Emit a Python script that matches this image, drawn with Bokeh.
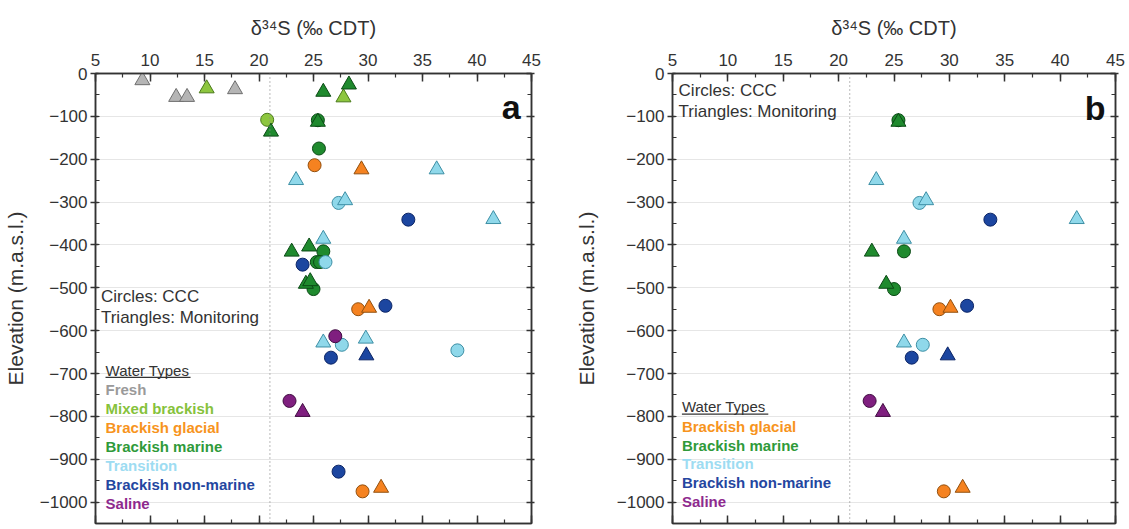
from bokeh.plotting import figure
from bokeh.models import LinearAxis, Range1d, Span, Label
from bokeh.layouts import row
from bokeh.embed import file_html
from bokeh.resources import INLINE

FONT = "Liberation Sans"

# ---------------- data: panel a ----------------
fresh_tri_x = [9.3, 12.4, 13.4, 17.8]
fresh_tri_y = [-16, -55, -55, -37]
mixed_circ_x = [20.75]
mixed_circ_y = [-108]
mixed_tri_x = [15.2, 27.75]
mixed_tri_y = [-35, -56]
glacial_circ_x = [25.1, 29.1, 29.5]
glacial_circ_y = [-214, -550, -975]
glacial_tri_x = [29.4, 30.1, 31.2]
glacial_tri_y = [-224, -547, -967]
marine_circ_x = [25.4, 25.5, 25.9, 25.3, 25.6, 25.0]
marine_circ_y = [-109, -175, -415, -440, -440, -503]
marine_tri_x = [25.9, 28.25, 21.1, 25.4, 23.0, 24.6, 24.3, 24.7]
marine_tri_y = [-43, -26, -136, -113, -416, -404, -491, -485]
trans_circ_x = [27.3, 26.1, 27.6, 38.2]
trans_circ_y = [-302, -440, -633, -646]
trans_tri_x = [23.4, 36.3, 27.9, 41.5, 25.9, 25.9, 29.8]
trans_tri_y = [-249, -224, -296, -340, -386, -628, -619]
nonmar_circ_x = [33.7, 24.0, 31.6, 26.6, 27.3]
nonmar_circ_y = [-341, -446, -542, -663, -929]
nonmar_tri_x = [29.85]
nonmar_tri_y = [-658]
saline_circ_x = [27.0, 22.8]
saline_circ_y = [-613, -764]
saline_tri_x = [24.0]
saline_tri_y = [-790]

# ---------------- data: panel b ----------------
b_glacial_circ_x = [29.1, 29.5]
b_glacial_circ_y = [-550, -975]
b_glacial_tri_x = [30.1, 31.2]
b_glacial_tri_y = [-547, -967]
b_marine_circ_x = [25.4, 25.9, 25.0]
b_marine_circ_y = [-109, -415, -503]
b_marine_tri_x = [25.4, 23.0, 24.3]
b_marine_tri_y = [-113, -416, -491]
b_trans_circ_x = [27.3, 27.6]
b_trans_circ_y = [-302, -633]
b_trans_tri_x = [23.4, 27.9, 41.5, 25.9, 25.9]
b_trans_tri_y = [-249, -296, -340, -386, -628]
b_nonmar_circ_x = [33.7, 31.6, 26.6]
b_nonmar_circ_y = [-341, -542, -663]
b_nonmar_tri_x = [29.85]
b_nonmar_tri_y = [-658]
b_saline_circ_x = [22.8]
b_saline_circ_y = [-764]
b_saline_tri_x = [24.0]
b_saline_tri_y = [-790]

seawater_d34s = 21.0

legend_a = ["Fresh", "Mixed brackish", "Brackish glacial", "Brackish marine",
            "Transition", "Brackish non-marine", "Saline"]
legend_b = ["Brackish glacial", "Brackish marine", "Transition",
            "Brackish non-marine", "Saline"]

# styles
STY = {
    "Fresh": dict(fill="#b5b5b5", line="#6f6f6f", text="#9a9a9a"),
    "Mixed brackish": dict(fill="#8dc63f", line="#4a7a1a", text="#86c23c"),
    "Brackish glacial": dict(fill="#f58220", line="#92500f", text="#f7941d"),
    "Brackish marine": dict(fill="#1f8a2e", line="#0b4a15", text="#2f9a3a"),
    "Transition": dict(fill="#8fd8ea", line="#3d8fa5", text="#9ddcf2"),
    "Brackish non-marine": dict(fill="#1c46a0", line="#0c2566", text="#2446a0"),
    "Saline": dict(fill="#7f1f7f", line="#3f0a40", text="#8e2a8e"),
}

CIRC = 13
TRI = 15


def make_fig(width, border_left, border_right, ylab_standoff):
    p = figure(width=width, height=529, x_range=Range1d(5, 45),
               y_range=Range1d(-1050, 0), x_axis_location="above",
               output_backend="svg", toolbar_location=None,
               min_border_left=border_left, min_border_right=border_right,
               min_border_top=73, min_border_bottom=6)
    p.outline_line_color = "#333333"
    p.outline_line_width = 1.5
    p.xgrid.visible = False
    p.ygrid.grid_line_color = "#e6e6e6"
    p.ygrid.grid_line_width = 1
    p.background_fill_color = "white"
    p.border_fill_color = "white"

    xa = p.xaxis[0]
    xa.axis_label = "\u03b4\u00b3\u2074S (\u2030 CDT)"
    xa.axis_label_text_font = FONT
    xa.axis_label_text_font_size = "20px"
    xa.axis_label_text_font_style = "normal"
    xa.axis_label_text_color = "#333333"
    xa.axis_label_standoff = 12
    xa.major_label_text_font = FONT
    xa.major_label_text_font_size = "17px"
    xa.major_label_text_color = "#333333"
    xa.major_label_standoff = 8
    xa.major_tick_in = 8
    xa.major_tick_out = 0
    xa.minor_tick_in = 4
    xa.minor_tick_out = 0
    xa.ticker.desired_num_ticks = 9
    xa.ticker.num_minor_ticks = 2

    ya = p.yaxis[0]
    ya.axis_label = "Elevation (m.a.s.l.)"
    ya.axis_label_text_font = FONT
    ya.axis_label_text_font_size = "21px"
    ya.axis_label_text_font_style = "normal"
    ya.axis_label_text_color = "#333333"
    ya.axis_label_standoff = ylab_standoff
    ya.major_label_text_font = FONT
    ya.major_label_text_font_size = "17px"
    ya.major_label_text_color = "#333333"
    ya.major_label_standoff = 3
    ya.major_tick_in = 3
    ya.major_tick_out = 5
    ya.minor_tick_in = 4
    ya.minor_tick_out = 0
    ya.ticker.desired_num_ticks = 11
    ya.ticker.num_minor_ticks = 2

    for ax in (xa, ya):
        ax.axis_line_color = "#333333"
        ax.axis_line_width = 1.5
        ax.major_tick_line_color = "#333333"
        ax.major_tick_line_width = 1.5
        ax.minor_tick_line_color = "#333333"
        ax.minor_tick_line_width = 1.2

    bx = LinearAxis(major_tick_in=8, major_tick_out=0, minor_tick_in=4,
                    minor_tick_out=0, major_label_standoff=0,
                    axis_line_color="#333333", axis_line_width=1.5,
                    major_tick_line_color="#333333", major_tick_line_width=1.5,
                    minor_tick_line_color="#333333", minor_tick_line_width=1.2)
    bx.ticker.desired_num_ticks = 9
    bx.ticker.num_minor_ticks = 2
    bx.major_label_overrides = {v: "" for v in range(5, 50, 5)}
    p.add_layout(bx, "below")

    ry = LinearAxis(major_tick_in=5, major_tick_out=3, minor_tick_in=4,
                    minor_tick_out=0, major_label_standoff=0,
                    axis_line_color="#333333", axis_line_width=1.5,
                    major_tick_line_color="#333333", major_tick_line_width=1.5,
                    minor_tick_line_color="#333333", minor_tick_line_width=1.2)
    ry.ticker.desired_num_ticks = 11
    ry.ticker.num_minor_ticks = 2
    ry.major_label_overrides = {v: "" for v in range(-1000, 100, 100)}
    p.add_layout(ry, "right")

    p.add_layout(Span(location=seawater_d34s, dimension="height",
                      line_color="#8a8a8a", line_width=1.2, line_dash="1 3"))
    return p


def pts(p, kind, cx, cy, tx, ty):
    s = STY[kind]
    if cx:
        p.scatter(cx, cy, marker="circle", size=CIRC, fill_color=s["fill"],
                  line_color=s["line"], line_width=1)
    if tx:
        p.scatter(tx, ty, marker="triangle", size=TRI, fill_color=s["fill"],
                  line_color=s["line"], line_width=1)


def txt(p, x, y, t, size, color="#333333", style="normal", align="left",
        baseline="middle"):
    p.add_layout(Label(x=x, y=y, text=t, text_font=FONT, text_font_size=size,
                       text_color=color, text_font_style=style,
                       text_align=align, text_baseline=baseline))


def legend(p, x, y_title, y_first, step, names, underline_len):
    txt(p, x, y_title, "Water Types", "15px")
    p.segment(x0=[x], y0=[y_title - 17], x1=[x + underline_len],
              y1=[y_title - 17], line_color="#333333", line_width=1.2)
    for i, n in enumerate(names):
        txt(p, x, y_first - i * step, n, "15px", color=STY[n]["text"],
            style="bold")


# ---------------- panel a ----------------
pa = make_fig(565, 88, 34, 10)
pts(pa, "Fresh", [], [], fresh_tri_x, fresh_tri_y)
pts(pa, "Mixed brackish", mixed_circ_x, mixed_circ_y, mixed_tri_x, mixed_tri_y)
pts(pa, "Brackish marine", marine_circ_x, marine_circ_y, marine_tri_x, marine_tri_y)
pts(pa, "Brackish glacial", glacial_circ_x, glacial_circ_y, glacial_tri_x, glacial_tri_y)
pts(pa, "Transition", trans_circ_x, trans_circ_y, trans_tri_x, trans_tri_y)
pts(pa, "Brackish non-marine", nonmar_circ_x, nonmar_circ_y, nonmar_tri_x, nonmar_tri_y)
pts(pa, "Saline", saline_circ_x, saline_circ_y, saline_tri_x, saline_tri_y)
txt(pa, 44.0, -79, "a", "34px", color="#111111", style="bold", align="right",
    baseline="alphabetic")
txt(pa, 5.5, -520, "Circles: CCC", "17px")
txt(pa, 5.5, -569, "Triangles: Monitoring", "17px")
legend(pa, 5.92, -692, -737, 44.3, legend_a, 7.8)

# ---------------- panel b ----------------
pb = make_fig(564, 107, 14, 16)
pts(pb, "Brackish marine", b_marine_circ_x, b_marine_circ_y, b_marine_tri_x, b_marine_tri_y)
pts(pb, "Brackish glacial", b_glacial_circ_x, b_glacial_circ_y, b_glacial_tri_x, b_glacial_tri_y)
pts(pb, "Transition", b_trans_circ_x, b_trans_circ_y, b_trans_tri_x, b_trans_tri_y)
pts(pb, "Brackish non-marine", b_nonmar_circ_x, b_nonmar_circ_y, b_nonmar_tri_x, b_nonmar_tri_y)
pts(pb, "Saline", b_saline_circ_x, b_saline_circ_y, b_saline_tri_x, b_saline_tri_y)
txt(pb, 44.1, -81, "b", "34px", color="#111111", style="bold", align="right",
    baseline="alphabetic")
txt(pb, 5.55, -39, "Circles: CCC", "17px")
txt(pb, 5.55, -89, "Triangles: Monitoring", "17px")
legend(pb, 5.85, -778, -823, 44.0, legend_b, 7.8)

layout = row(pa, pb)
open("out.html", "w").write(file_html(layout, INLINE))
